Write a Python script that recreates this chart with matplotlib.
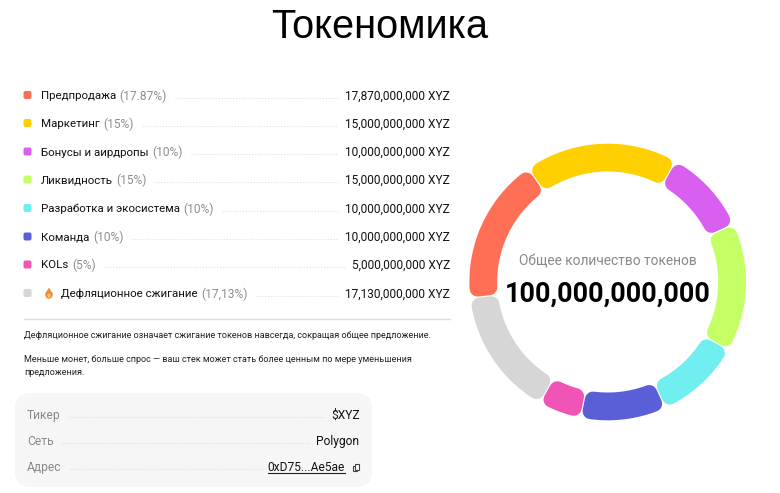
import numpy as np
import matplotlib
matplotlib.use("Agg")
import matplotlib.pyplot as plt
from matplotlib.patches import Polygon, FancyBboxPatch, Rectangle, Ellipse

plt.rcParams['font.family'] = ['Roboto', 'DejaVu Sans']

title = "Токеномика"
legend_names = ["Предпродажа", "Маркетинг", "Бонусы и аирдропы", "Ликвидность",
                "Разработка и экосистема", "Команда", "KOLs", "Дефляционное сжигание"]
legend_pcts = ["(17.87%)", "(15%)", "(10%)", "(15%)", "(10%)", "(10%)", "(5%)", "(17,13%)"]
legend_amounts = ["17,870,000,000 XYZ", "15,000,000,000 XYZ", "10,000,000,000 XYZ", "15,000,000,000 XYZ",
                  "10,000,000,000 XYZ", "10,000,000,000 XYZ", "5,000,000,000 XYZ", "17,130,000,000 XYZ"]
legend_colors = ["#F0705A", "#FFD000", "#D95FF0", "#C4FF66", "#70EEF0", "#5A5FD8", "#F055B5", "#D6D6D6"]

# ring as drawn, clockwise from its first segment
ring_values = [17.87, 10, 15, 10, 10, 5, 15, 17.13]
ring_colors = ["#FFD000", "#D95FF0", "#C4FF66", "#70EEF0", "#5A5FD8", "#F055B5", "#D6D6D6", "#FF6F55"]
ring_start_deg = -35.0

center_label = "Общее количество токенов"
center_total = "100,000,000,000"
note_1 = "Дефляционное сжигание означает сжигание токенов навсегда, сокращая общее предложение."
note_2 = "Меньше монет, больше спрос — ваш стек может стать более ценным по мере уменьшения"
note_3 = "предложения."
info_labels = ["Тикер", "Сеть", "Адрес"]
info_values = ["$XYZ", "Polygon", "0xD75...Ae5ae"]

fig = plt.figure(figsize=(7.8, 4.93), dpi=100)
ax = fig.add_axes([0, 0, 1, 1])
ax.set_xlim(0, 780)
ax.set_ylim(493, 0)
ax.axis("off")
PX = 0.72
r = fig.canvas.get_renderer()


def right_edge(t):
    return ax.transData.inverted().transform(t.get_window_extent(r).get_points())[1, 0]


def leader(x0, x1, y):
    ax.plot([x0, x1], [y, y], color="#DEDEDE", lw=0.8, ls=(0, (1, 1.6)), zorder=1)


ax.text(380, 26.5, title, ha="center", va="center", fontsize=39.8 * PX,
        family="Liberation Sans", color="#000000")

row_y = [96, 124, 152.5, 180.5, 209, 237.5, 265.5, 294]
leader_end = [338, 338, 338, 338, 338, 338, 345, 338]
for i, y in enumerate(row_y):
    ax.add_patch(FancyBboxPatch((25, y - 3.5), 5, 5, boxstyle="round,pad=1.5,rounding_size=2",
                                fc=legend_colors[i], ec="none"))
    x = 41
    if i == 7:
        # flame icon
        ax.add_patch(Ellipse((49, y + 0.7), 7.5, 8.2, fc="#F28C2E", ec="none", zorder=3))
        ax.add_patch(Polygon([(46.2, y - 1.5), (49, y - 6.5), (51.8, y - 1.5)], fc="#F28C2E", ec="none", zorder=3))
        ax.add_patch(Ellipse((49, y + 1.7), 3.4, 4.2, fc="#FBC36B", ec="none", zorder=4))
        x = 61
    t = ax.text(x, y, legend_names[i], ha="left", va="center", fontsize=11.5 * PX, color="#111111")
    t2 = ax.text(right_edge(t) + 3.5, y, legend_pcts[i], ha="left", va="center", fontsize=12 * PX, color="#8E8E8E")
    leader(right_edge(t2) + 8, leader_end[i], y + 1.5)
    ax.text(450, y, legend_amounts[i], ha="right", va="center", fontsize=11.9 * PX, color="#111111")

ax.plot([24, 450], [318.5, 318.5], color="#DDDDDD", lw=1.0)
for txt, y in zip([note_1, note_2, note_3], [335, 360, 372.5]):
    ax.text(24, y, txt, ha="left", va="center", fontsize=9.05 * PX, color="#222222")

ax.add_patch(FancyBboxPatch((31, 409), 325, 62, boxstyle="round,pad=16,rounding_size=16",
                            fc="#F6F6F6", ec="none", zorder=0))
info_y = [415.5, 441.5, 467.5]
info_ends = [326, 310, 262]
for i, y in enumerate(info_y):
    t = ax.text(27, y, info_labels[i], ha="left", va="center", fontsize=12 * PX, color="#8A8A8A")
    leader(right_edge(t) + 8, info_ends[i], y + 1.5)
    xr = 345 if i == 2 else 359.5
    tv = ax.text(xr, y, info_values[i], ha="right", va="center", fontsize=12 * PX, color="#111111")
    if i == 2:
        bb = ax.transData.inverted().transform(tv.get_window_extent(r).get_points())
        ax.plot([bb[0, 0], xr], [y + 5.2, y + 5.2], color="#222222", lw=0.8)
        ax.add_patch(Rectangle((352.5, y - 2), 4.5, 5.5, fc="white", ec="#444444", lw=0.8, zorder=3))
        ax.add_patch(Rectangle((354.5, y - 3.5), 4.5, 5.5, fc="white", ec="#444444", lw=0.8, zorder=4))

# ring
cx, cy = 607.7, 282.0
R_out, R_in = 138.3, 110.5
corner = 8.0
gap_px = 0.6
edges = np.cumsum([0] + ring_values) / sum(ring_values) * 360 + ring_start_deg
for k, col in enumerate(ring_colors):
    a0, a1 = edges[k], edges[k + 1]
    ro, ri = R_out - corner, R_in + corner
    d_o = np.degrees((corner + gap_px) / ro)
    d_i = np.degrees((corner + gap_px) / ri)
    ao = np.radians(np.linspace(a0 + d_o, a1 - d_o, 60))
    ai = np.radians(np.linspace(a1 - d_i, a0 + d_i, 60))
    xs = np.r_[cx + ro * np.sin(ao), cx + ri * np.sin(ai)]
    ys = np.r_[cy - ro * np.cos(ao), cy - ri * np.cos(ai)]
    ax.add_patch(Polygon(np.c_[xs, ys], closed=True, fc=col, ec=col, lw=2 * corner * PX,
                         joinstyle="round", zorder=2))

ax.text(608, 261.5, center_label, ha="center", va="center", fontsize=13.7 * PX, color="#8A8A8A")
ax.text(608, 294, center_total, ha="center", va="center", fontsize=27 * PX, color="#000000",
        fontweight="bold")

fig.savefig("out.png", dpi=100)
